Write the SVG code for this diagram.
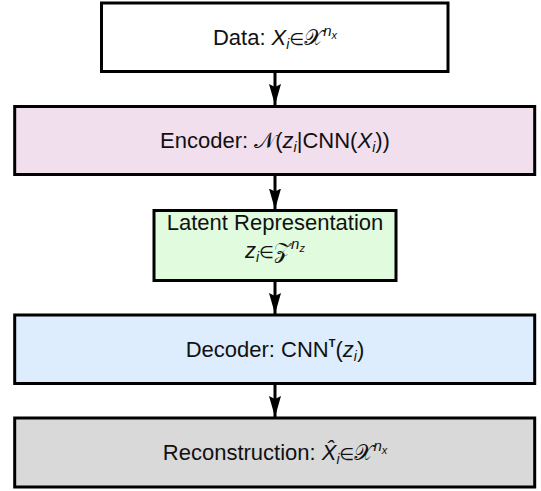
<svg xmlns="http://www.w3.org/2000/svg" width="541" height="491" viewBox="0 0 541 491">
<style>
.box{stroke:#000;stroke-width:3}
.t{font-family:"Liberation Sans",Arial,sans-serif;font-size:22px;fill:#111;text-anchor:middle}
.m{font-style:italic}
.el{font-family:"DejaVu Sans",sans-serif;font-size:17px}
.conn{stroke:#000;stroke-width:3;fill:none}
</style>
<defs>
<marker id="ah" markerUnits="userSpaceOnUse" markerWidth="22" markerHeight="12" refX="21" refY="6" orient="auto" viewBox="0 0 22 12">
<path d="M0,0 L21,6 L0,12 L3,6 Z" fill="#000"/>
</marker>
</defs>
<rect width="541" height="491" fill="#fff"/>
<g id="connectors">
<line class="conn" x1="275" y1="72" x2="275" y2="105" marker-end="url(#ah)"/>
<line class="conn" x1="275" y1="175" x2="275" y2="209.5" marker-end="url(#ah)"/>
<line class="conn" x1="275" y1="281" x2="275" y2="314" marker-end="url(#ah)"/>
<line class="conn" x1="275" y1="384" x2="275" y2="417" marker-end="url(#ah)"/>
</g>
<g id="data">
<rect class="box" x="101.5" y="3" width="346.5" height="68.5" fill="#fff"/>
<text class="t" x="275" y="45">Data: <tspan class="m">X</tspan><tspan class="m" font-size="14" dy="4">i</tspan><tspan class="el" dy="-4">∈</tspan><tspan>𝒳</tspan><tspan class="m" font-size="15" dy="-9">n</tspan><tspan class="m" font-size="11" dy="3">x</tspan></text>
</g>
<g id="encoder">
<rect class="box" x="14.7" y="106.5" width="520" height="68" fill="#F1DFEE"/>
<text class="t" x="275" y="148">Encoder: <tspan>𝒩</tspan>(<tspan class="m">z</tspan><tspan class="m" font-size="14" dy="4">i</tspan><tspan dy="-4">|CNN(</tspan><tspan class="m">X</tspan><tspan class="m" font-size="14" dy="4">i</tspan><tspan dy="-4">))</tspan></text>
</g>
<g id="latent">
<rect class="box" x="154" y="210.5" width="242" height="70" fill="#E0FBDD"/>
<text class="t" x="275" y="229.5">Latent Representation</text>
<text class="t" x="275" y="258"><tspan class="m">z</tspan><tspan class="m" font-size="14" dy="4">i</tspan><tspan class="el" dy="-4">∈</tspan><tspan>𝒵</tspan><tspan class="m" font-size="15" dy="-9">n</tspan><tspan class="m" font-size="11" dy="3">z</tspan></text>
</g>
<g id="decoder">
<rect class="box" x="14.7" y="315" width="520" height="68.5" fill="#DDEDFD"/>
<text class="t" x="275" y="357">Decoder: CNN<tspan font-size="11" font-weight="bold" dy="-10">T</tspan><tspan dy="10">(</tspan><tspan class="m">z</tspan><tspan class="m" font-size="14" dy="4">i</tspan><tspan dy="-4">)</tspan></text>
</g>
<g id="reconstruction">
<rect class="box" x="14.7" y="418" width="520" height="69" fill="#D9D9D9"/>
<text class="t" x="275" y="460">Reconstruction: <tspan class="m">X̂</tspan><tspan class="m" font-size="14" dy="4">i</tspan><tspan class="el" dy="-4">∈</tspan><tspan>𝒳</tspan><tspan class="m" font-size="15" dy="-9">n</tspan><tspan class="m" font-size="11" dy="3">x</tspan></text>
</g>
</svg>
